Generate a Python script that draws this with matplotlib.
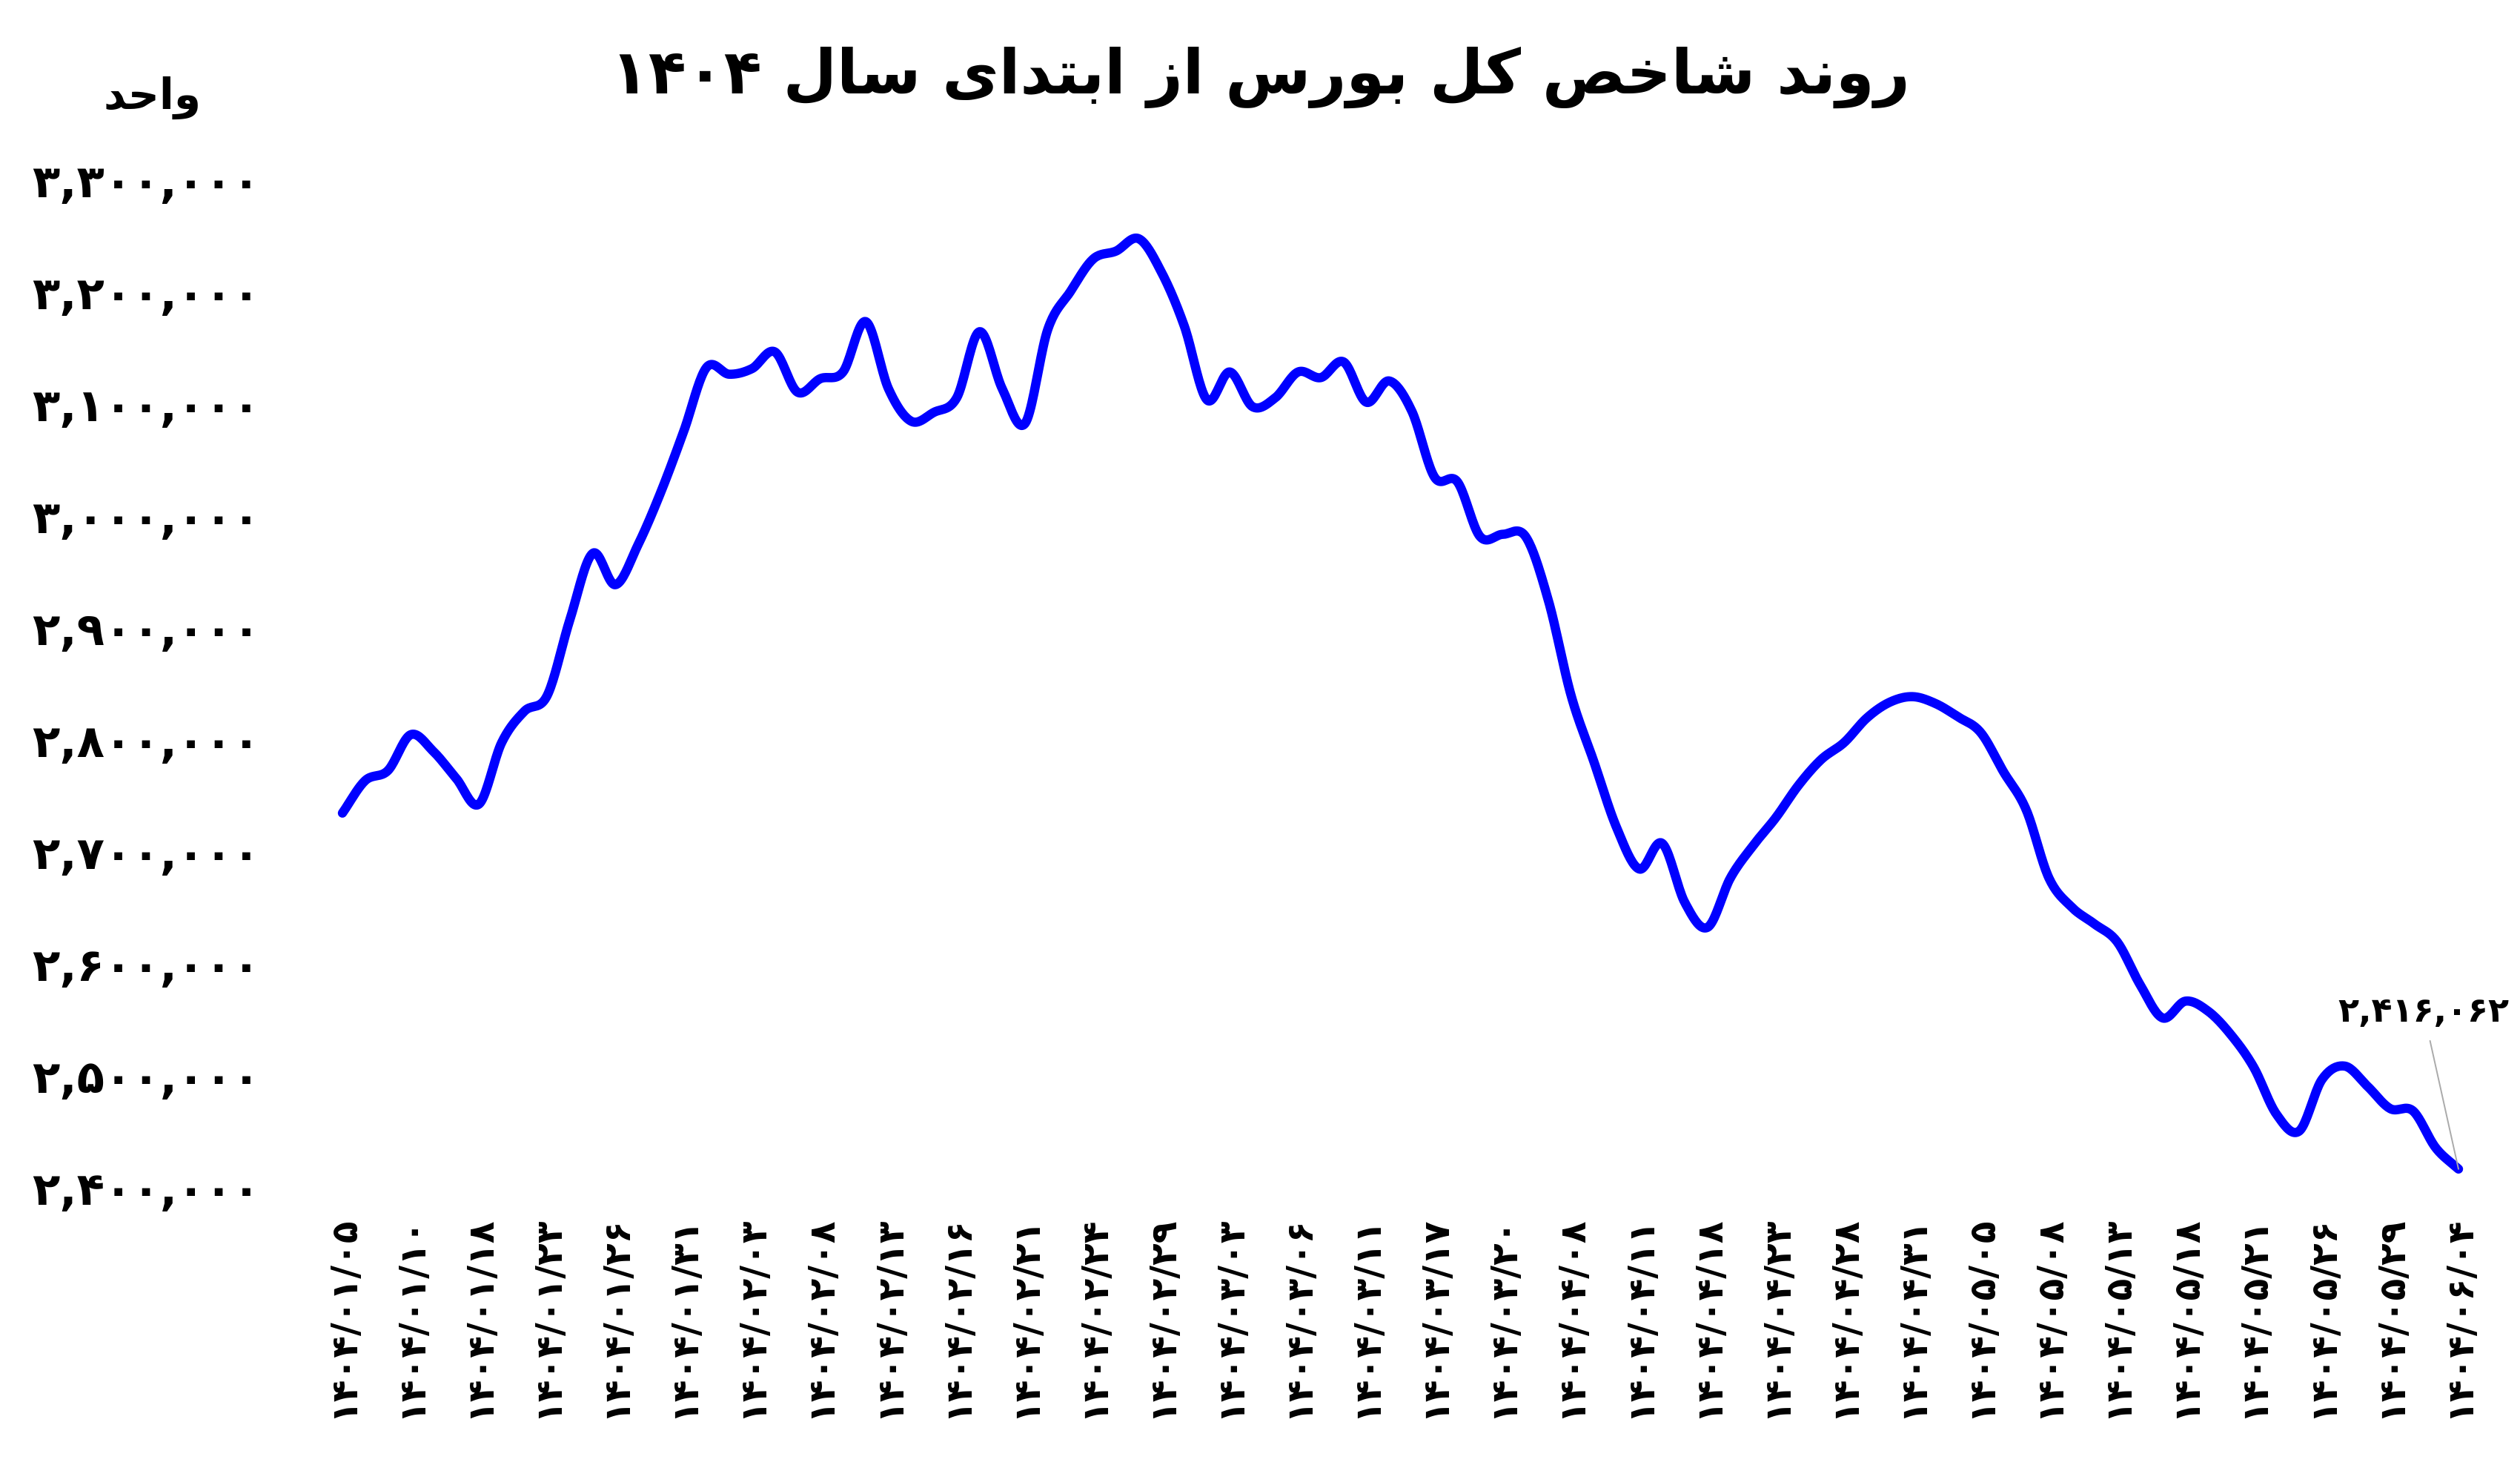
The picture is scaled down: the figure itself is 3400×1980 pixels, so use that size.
import numpy as np
import matplotlib
matplotlib.use("Agg")
import matplotlib.pyplot as plt

# ---------------- data ----------------
title_text = "روند شاخص کل بورس از ابتدای سال ۱۴۰۴"
unit_text = "واحد"

tick_labels = [
    "۱۴۰۴/۰۱/۰۵", "۱۴۰۴/۰۱/۱۰", "۱۴۰۴/۰۱/۱۸", "۱۴۰۴/۰۱/۲۳", "۱۴۰۴/۰۱/۲۶",
    "۱۴۰۴/۰۱/۳۱", "۱۴۰۴/۰۲/۰۳", "۱۴۰۴/۰۲/۰۸", "۱۴۰۴/۰۲/۱۳", "۱۴۰۴/۰۲/۱۶",
    "۱۴۰۴/۰۲/۲۱", "۱۴۰۴/۰۲/۲۴", "۱۴۰۴/۰۲/۲۹", "۱۴۰۴/۰۳/۰۳", "۱۴۰۴/۰۳/۰۶",
    "۱۴۰۴/۰۳/۱۱", "۱۴۰۴/۰۳/۱۷", "۱۴۰۴/۰۳/۲۰", "۱۴۰۴/۰۴/۰۸", "۱۴۰۴/۰۴/۱۱",
    "۱۴۰۴/۰۴/۱۸", "۱۴۰۴/۰۴/۲۳", "۱۴۰۴/۰۴/۲۸", "۱۴۰۴/۰۴/۳۱", "۱۴۰۴/۰۵/۰۵",
    "۱۴۰۴/۰۵/۰۸", "۱۴۰۴/۰۵/۱۳", "۱۴۰۴/۰۵/۱۸", "۱۴۰۴/۰۵/۲۱", "۱۴۰۴/۰۵/۲۶",
    "۱۴۰۴/۰۵/۲۹", "۱۴۰۴/۰۶/۰۴",
]
tick_step = 3  # one labelled date every 3 trading days

index_values = [
    2734000, 2763000, 2772000, 2804000, 2789000, 2765000, 2742000, 2797000,
    2825000, 2839000, 2907000, 2966000, 2938000, 2974000, 3021000, 3075000,
    3132000, 3126000, 3131000, 3146000, 3110000, 3122000, 3128000, 3173000,
    3113000, 3084000, 3092000, 3105000, 3164000, 3113000, 3082000, 3166000,
    3200000, 3229000, 3236000, 3247000, 3217000, 3169000, 3103000, 3128000,
    3097000, 3105000, 3128000, 3123000, 3137000, 3101000, 3120000, 3093000,
    3034000, 3030000, 2981000, 2983000, 2981000, 2924000, 2839000, 2780000,
    2721000, 2684000, 2707000, 2654000, 2632000, 2676000, 2705000, 2730000,
    2759000, 2782000, 2797000, 2819000, 2833000, 2838000, 2832000, 2820000,
    2806000, 2771000, 2737000, 2676000, 2650000, 2635000, 2619000, 2581000,
    2551000, 2566000, 2557000, 2536000, 2507000, 2465000, 2450000, 2496000,
    2508000, 2490000, 2470000, 2468000, 2435000, 2416062,
]

y_ticks = [2400000, 2500000, 2600000, 2700000, 2800000, 2900000, 3000000,
           3100000, 3200000, 3300000]

# ---------------- helpers ----------------
FA_DIGITS = str.maketrans("0123456789", "۰۱۲۳۴۵۶۷۸۹")

# isolated, final, initial, medial
FORMS = {
    "ا": ("\uFE8D", "\uFE8E", None, None),
    "ب": ("\uFE8F", "\uFE90", "\uFE91", "\uFE92"),
    "ت": ("\uFE95", "\uFE96", "\uFE97", "\uFE98"),
    "ح": ("\uFEA1", "\uFEA2", "\uFEA3", "\uFEA4"),
    "خ": ("\uFEA5", "\uFEA6", "\uFEA7", "\uFEA8"),
    "د": ("\uFEA9", "\uFEAA", None, None),
    "ر": ("\uFEAD", "\uFEAE", None, None),
    "ز": ("\uFEAF", "\uFEB0", None, None),
    "س": ("\uFEB1", "\uFEB2", "\uFEB3", "\uFEB4"),
    "ش": ("\uFEB5", "\uFEB6", "\uFEB7", "\uFEB8"),
    "ص": ("\uFEB9", "\uFEBA", "\uFEBB", "\uFEBC"),
    "ل": ("\uFEDD", "\uFEDE", "\uFEDF", "\uFEE0"),
    "ن": ("\uFEE5", "\uFEE6", "\uFEE7", "\uFEE8"),
    "و": ("\uFEED", "\uFEEE", None, None),
    "ک": ("\uFB8E", "\uFB8F", "\uFB90", "\uFB91"),
    "ی": ("\uFBFC", "\uFBFD", "\uFBFE", "\uFBFF"),
}


def shape_word(word):
    out = []
    for k, c in enumerate(word):
        if c not in FORMS:
            out.append(c)
            continue
        prev = word[k - 1] if k > 0 else None
        nxt = word[k + 1] if k + 1 < len(word) else None
        dual = FORMS[c][2] is not None
        pj = prev in FORMS and FORMS[prev][2] is not None
        nj = nxt in FORMS and dual
        iso, fin, ini, med = FORMS[c]
        if pj and nj:
            out.append(med)
        elif pj:
            out.append(fin)
        elif nj:
            out.append(ini)
        else:
            out.append(iso)
    return "".join(out)


def visual(text):
    words = text.split(" ")
    res = []
    for w in words:
        if any(ch in FORMS for ch in w):
            res.append(shape_word(w)[::-1])
        else:
            res.append(w)
    return " ".join(res[::-1])


def smooth(x, y, n=20):
    x = np.asarray(x, float)
    y = np.asarray(y, float)
    m = np.zeros_like(y)
    m[1:-1] = (y[2:] - y[:-2]) / (x[2:] - x[:-2])
    m[0] = (y[1] - y[0]) / (x[1] - x[0])
    m[-1] = (y[-1] - y[-2]) / (x[-1] - x[-2])
    xs, ys = [], []
    for i in range(len(x) - 1):
        h = x[i + 1] - x[i]
        t = np.linspace(0, 1, n, endpoint=False)
        h00 = 2 * t**3 - 3 * t**2 + 1
        h10 = t**3 - 2 * t**2 + t
        h01 = -2 * t**3 + 3 * t**2
        h11 = t**3 - t**2
        xs.append(x[i] + t * h)
        ys.append(h00 * y[i] + h10 * h * m[i] + h01 * y[i + 1] + h11 * h * m[i + 1])
    xs.append([x[-1]])
    ys.append([y[-1]])
    return np.concatenate(xs), np.concatenate(ys)


# ---------------- figure ----------------
plt.rcParams["font.family"] = ["DejaVu Sans"]
W, H = 3400, 1981
fig = plt.figure(figsize=(W / 100, H / 100), dpi=100)
fig.patch.set_facecolor("white")

left, right, top, bottom = 462, 3317, 243, 1602
ax = fig.add_axes([left / W, (H - bottom) / H, (right - left) / W, (bottom - top) / H])

x = np.arange(len(index_values))
sx, sy = smooth(x, index_values)
ax.plot(sx, sy, color="#0000ff", lw=9, solid_capstyle="round",
        solid_joinstyle="round", clip_on=False)

ax.set_xlim(0, len(index_values) - 1)
ax.set_ylim(y_ticks[0], y_ticks[-1])

ax.set_xticks(np.arange(0, len(index_values), tick_step))
ax.set_xticklabels(tick_labels, rotation=90, fontsize=35, fontweight="bold")
ax.set_yticks(y_ticks)
ax.set_yticklabels([f"{v:,}".translate(FA_DIGITS) for v in y_ticks],
                   fontsize=44, fontweight="bold")
ax.tick_params(axis="x", length=0, pad=27)
ax.tick_params(axis="y", length=0, pad=80)
for s in ax.spines.values():
    s.set_visible(False)

# title & unit
fig.text(0.5, 1 - 104 / H, visual(title_text), ha="center", va="center",
         fontsize=60, fontweight="bold")
fig.text(206 / W, 1 - 132 / H, visual(unit_text), ha="center", va="center",
         fontsize=42, fontweight="bold")

# last value annotation
last_val = index_values[-1]
ax.annotate(f"{last_val:,}".translate(FA_DIGITS),
            xy=(len(index_values) - 1, last_val),
            xytext=(3270 / W, 1 - 1366 / H), textcoords="figure fraction",
            ha="center", va="center", fontsize=33, fontweight="bold",
            arrowprops=dict(arrowstyle="-", color="#aaaaaa", lw=1.4,
                            shrinkA=10, shrinkB=0),
            annotation_clip=False)

fig.savefig("out.png", dpi=100, facecolor="white")
